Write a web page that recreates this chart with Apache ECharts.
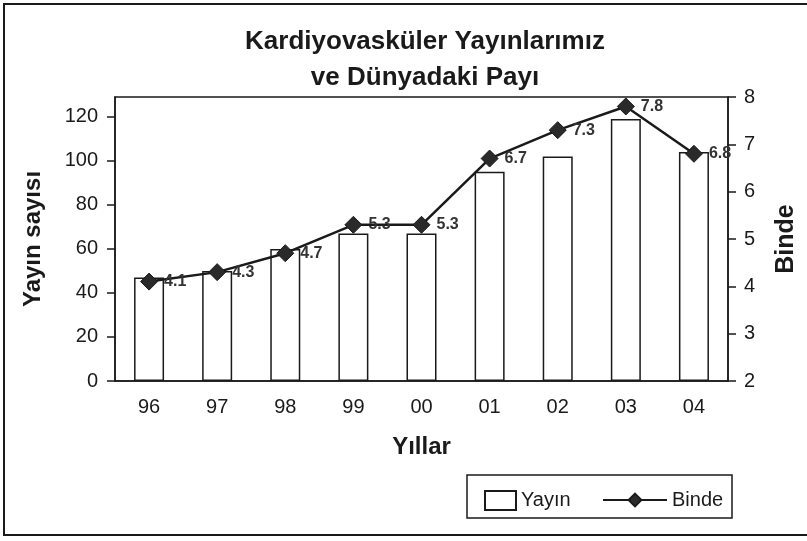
<!DOCTYPE html>
<html>
<head>
<meta charset="utf-8">
<script src="https://cdn.jsdelivr.net/npm/echarts@6/dist/echarts.min.js"></script>
<style>
  html, body { margin: 0; padding: 0; background: #fff; }
  #main { width: 807px; height: 541px; }
</style>
</head>
<body>
<div id="main"></div>
<script>
// veriler
var years = ['96', '97', '98', '99', '00', '01', '02', '03', '04'];
var yayin = [47, 50, 60, 67, 67, 95, 102, 119, 104];   // yayın sayısı
var binde = [4.1, 4.3, 4.7, 5.3, 5.3, 6.7, 7.3, 7.8, 6.8]; // binde pay

var ink = '#1a1a1a';
var font = 'Liberation Sans, Arial, sans-serif';

var chart = echarts.init(document.getElementById('main'));

var option = {
  backgroundColor: '#fff',
  animation: false,
  textStyle: { fontFamily: font, color: ink },
  title: {
    text: 'Kardiyovasküler Yayınlarımız\nve Dünyadaki Payı',
    left: 420,
    textAlign: 'center',
    top: 19,
    textStyle: { fontSize: 26, fontWeight: 'bold', lineHeight: 36, color: ink, fontFamily: font }
  },
  graphic: [
    { // dış çerçeve
      type: 'rect',
      shape: { x: 4, y: 4, width: 806, height: 531 },
      style: { fill: 'none', stroke: ink, lineWidth: 2 }
    },
    { // lejant kutusu
      type: 'rect',
      shape: { x: 467, y: 475, width: 265, height: 43 },
      style: { fill: 'none', stroke: ink, lineWidth: 1.5 }
    }
  ],
  legend: [
    {
      data: [{ name: 'Yayın', icon: 'rect' }],
      left: 479, top: 485,
      itemWidth: 31, itemHeight: 19,
      itemGap: 0,
      textStyle: { fontSize: 20, color: ink, fontFamily: font }
    },
    {
      data: ['Binde'],
      left: 597, top: 485,
      itemWidth: 64, itemHeight: 16,
      textStyle: { fontSize: 20, color: ink, fontFamily: font }
    }
  ],
  grid: {
    left: 115, right: 77, top: 97, bottom: 160,
    show: true, borderColor: ink, borderWidth: 1.5
  },
  xAxis: {
    type: 'category',
    data: years,
    name: 'Yıllar',
    nameLocation: 'middle',
    nameGap: 54,
    nameTextStyle: { fontSize: 24, fontWeight: 'bold', color: ink },
    axisLine: { lineStyle: { color: ink, width: 1.5 } },
    axisTick: { length: 8, lineStyle: { color: ink, width: 1.5 } },
    axisLabel: { fontSize: 20, color: ink, margin: 16 }
  },
  yAxis: [
    {
      type: 'value',
      min: 0, max: 129, interval: 20,
      name: 'Yayın sayısı',
      nameLocation: 'middle',
      nameGap: 70,
      nameTextStyle: { fontSize: 24, fontWeight: 'bold', color: ink },
      axisLine: { show: true, lineStyle: { color: ink, width: 1.5 } },
      axisTick: { show: true, length: 8, lineStyle: { color: ink, width: 1.5 } },
      axisLabel: { fontSize: 20, color: ink, margin: 17, showMaxLabel: false },
      splitLine: { show: false }
    },
    {
      type: 'value',
      min: 2, max: 8, interval: 1,
      name: 'Binde',
      nameLocation: 'middle',
      nameGap: 46,
      nameRotate: 90,
      nameTextStyle: { fontSize: 25, fontWeight: 'bold', color: ink, padding: [0, 0, 25, 0] },
      axisLine: { show: true, lineStyle: { color: ink, width: 1.5 } },
      axisTick: { show: true, length: 8, lineStyle: { color: ink, width: 1.5 } },
      axisLabel: { fontSize: 20, color: ink, margin: 16 },
      splitLine: { show: false }
    }
  ],
  series: [
    {
      name: 'Yayın',
      type: 'bar',
      data: yayin,
      barWidth: 30,
      itemStyle: { color: '#fff', borderColor: ink, borderWidth: 1.5 }
    },
    {
      name: 'Binde',
      type: 'line',
      yAxisIndex: 1,
      data: binde,
      symbol: 'diamond',
      symbolSize: 17,
      itemStyle: { color: '#2a2a2a', borderColor: ink, borderWidth: 1 },
      lineStyle: { color: ink, width: 2.5 },
      label: {
        show: true,
        position: 'right',
        distance: 6,
        fontSize: 16,
        fontWeight: 'bold',
        color: '#333',
        formatter: function (p) { return p.value.toFixed(1); }
      }
    }
  ]
};

chart.setOption(option);
</script>
</body>
</html>
